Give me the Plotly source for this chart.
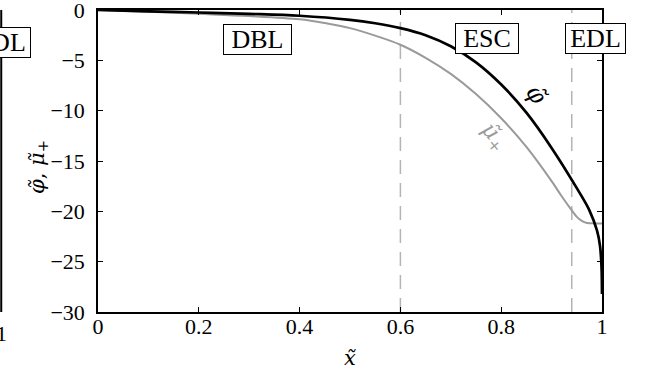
import plotly.graph_objects as go

# ---- data ----
x_phi = [0, 0.1, 0.2, 0.3, 0.4, 0.5, 0.55, 0.6, 0.65, 0.7, 0.75, 0.8, 0.85,
         0.9, 0.95, 0.975, 0.99, 0.996, 0.999, 1.0]
phi = [0, -0.13, -0.25, -0.38, -0.57, -0.98, -1.32, -1.8, -2.5, -3.6, -5.2, -7.4,
       -10.2, -13.7, -17.7, -19.9, -21.9, -23.4, -25.5, -28.2]

x_mu = [0, 0.1, 0.2, 0.3, 0.4, 0.45, 0.5, 0.55, 0.6, 0.65, 0.7, 0.75, 0.8, 0.85,
        0.9, 0.92, 0.94, 0.95, 0.96, 0.97, 0.985, 1.0]
mu = [0, -0.18, -0.38, -0.6, -0.93, -1.3, -1.8, -2.55, -3.45, -4.75, -6.35, -8.35,
      -10.75, -13.6, -17.0, -18.5, -19.9, -20.55, -20.95, -21.15, -21.2, -21.2]

region_bounds = [0.6, 0.94]
region_names = ["DBL", "ESC", "EDL"]

x_ticks = [0, 0.2, 0.4, 0.6, 0.8, 1]
x_ticklabels = ["0", "0.2", "0.4", "0.6", "0.8", "1"]
y_ticks = [0, -5, -10, -15, -20, -25, -30]

FONT = "Liberation Serif, Times New Roman, serif"
MATH = "DejaVu Serif, serif"

fig = go.Figure()
fig.add_trace(go.Scatter(x=x_mu, y=mu, mode="lines",
                         line=dict(color="#9a9a9a", width=2, shape="spline", smoothing=1.0),
                         showlegend=False))
fig.add_trace(go.Scatter(x=x_phi, y=phi, mode="lines",
                         line=dict(color="#000000", width=2.7, shape="spline", smoothing=1.0),
                         showlegend=False))

for xb in region_bounds:
    fig.add_shape(type="line", xref="x", yref="paper", x0=xb, x1=xb, y0=0, y1=1,
                  line=dict(color="#b4b4b4", width=1.5, dash="14px,9px"), layer="below")

label_pos = [(0.3165, -2.93), (0.772, -2.83), (0.987, -2.83)]
label_w = [63, 58, 55]
for name, (lx, ly), w in zip(region_names, label_pos, label_w):
    fig.add_annotation(x=lx, y=ly, xref="x", yref="y", text=name, showarrow=False,
                       xanchor="center", yanchor="middle", width=w, height=25,
                       font=dict(family=FONT, size=26, color="black"),
                       bgcolor="white", bordercolor="black", borderwidth=1, borderpad=2)

# curve labels
fig.add_annotation(x=0.871, y=-8.4, xref="x", yref="y", text="<i>φ̃</i>", showarrow=False,
                   xanchor="center", yanchor="middle", textangle=55,
                   font=dict(family=MATH, size=24, color="black"))
fig.add_annotation(x=0.784, y=-12.6, xref="x", yref="y", text="<i>μ̃</i><sub>+</sub>",
                   showarrow=False, textangle=50, xanchor="center", yanchor="middle",
                   font=dict(family=MATH, size=22, color="#9a9a9a"))

# axis titles
fig.add_annotation(x=0.5, y=-0.152, xref="paper", yref="paper", text="<i>x̃</i>",
                   xanchor="center", yanchor="middle",
                   showarrow=False, font=dict(family=MATH, size=21, color="black"))
fig.add_annotation(x=-0.119, y=0.48, xref="paper", yref="paper",
                   text="<i>φ̃</i>, <i>μ̃</i><sub>+</sub>", showarrow=False, textangle=-90,
                   xanchor="center", yanchor="middle",
                   font=dict(family=MATH, size=21, color="black"))

# sliver of neighbouring panel on the left
fig.add_shape(type="line", xref="paper", yref="paper", x0=-0.192, x1=-0.192, y0=0, y1=1,
              line=dict(color="black", width=2))
fig.add_annotation(x=-0.133, y=0.894, xref="paper", yref="paper", text="EDL",
                   xanchor="right", yanchor="middle", showarrow=False, width=55, height=25,
                   font=dict(family=FONT, size=26, color="black"),
                   bgcolor="white", bordercolor="black", borderwidth=1, borderpad=2)
fig.add_annotation(x=-0.192, y=-0.07, xref="paper", yref="paper", text="1",
                   xanchor="center", yanchor="middle",
                   showarrow=False, font=dict(family=FONT, size=22, color="black"))

axis_common = dict(showline=True, linecolor="black", linewidth=1.5, mirror="ticks",
                   ticks="inside", ticklen=5, tickwidth=1, tickcolor="black",
                   showgrid=False, zeroline=False, ticklabeloverflow="allow",
                   automargin=False,
                   tickfont=dict(family=FONT, size=22, color="black"))

fig.update_xaxes(range=[0, 1], tickvals=x_ticks, ticktext=x_ticklabels,
                 ticklabelstandoff=-6, **axis_common)
fig.update_yaxes(range=[-30, 0], tickvals=y_ticks, ticklabelstandoff=7, **axis_common)

fig.update_layout(width=654, height=376, margin=dict(l=98, r=52, t=10, b=64),
                  paper_bgcolor="white", plot_bgcolor="white",
                  font=dict(family=FONT))

fig.write_html("out.html", config={"displayModeBar": False},
               post_script="document.body.style.margin='0';document.body.style.overflow='hidden';")
